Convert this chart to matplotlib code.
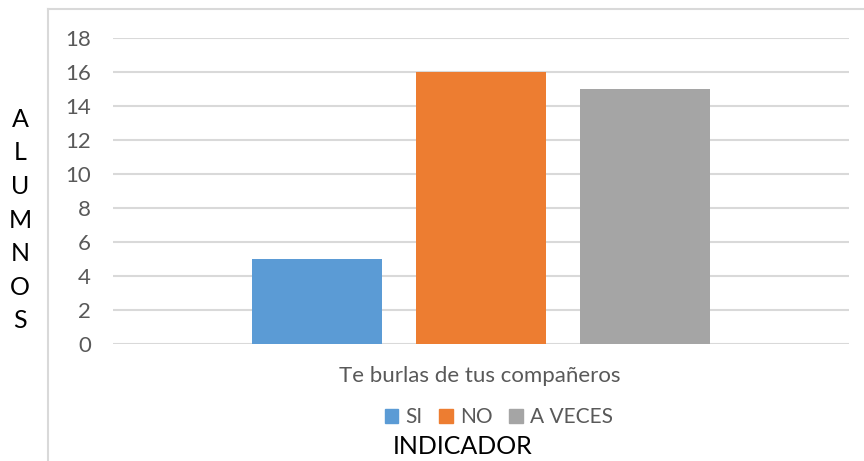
import matplotlib.pyplot as plt
from matplotlib.patches import Patch
import numpy as np

plt.rcParams['font.family'] = ['Lato', 'DejaVu Sans']

# datos
categoria = 'Te burlas de tus compañeros'
series = ['SI', 'NO', 'A VECES']
valores = [5, 16, 15]
colores = ['#5B9BD5', '#ED7D31', '#A5A5A5']

fig = plt.figure(figsize=(8.64, 4.61), dpi=100)
ax = fig.add_axes([113/864, 1-344/461, (849-113)/864, (344-38)/461])

x = np.arange(len(series)) - 1
ax.bar(x, valores, width=0.787, color=colores, zorder=3)

ax.set_xlim(-2.244, 2.244)
ax.set_ylim(0, 18)
ax.set_yticks(range(0, 19, 2))
ax.set_xticks([])
ax.yaxis.grid(True, color='#D9D9D9', linewidth=1.5, zorder=0)
for s in ax.spines.values():
    s.set_visible(False)
ax.tick_params(axis='y', length=0, pad=16, labelsize=16, labelcolor='#595959')

# borde del grafico (parcialmente recortado)
fig.add_artist(plt.Line2D([48/864, 48/864], [0, 1-9/461], color='#D9D9D9', linewidth=1.5))
fig.add_artist(plt.Line2D([48/864, 1], [1-9/461, 1-9/461], color='#D9D9D9', linewidth=1.5))

fig.text(480/864, 1-376/461, categoria, ha='center', va='center', fontsize=16, color='#595959')

handles = [Patch(color=c, label=s) for c, s in zip(colores, series)]
fig.legend(handles=handles, loc='center', bbox_to_anchor=(499/864, 1-417/461), ncol=3,
           frameon=False, fontsize=15, labelcolor='#595959', handlelength=0.65, handleheight=0.65,
           handletextpad=0.35, columnspacing=0.8)

fig.text(463/864, 1-446/461, 'INDICADOR', ha='center', va='center', fontsize=18, color='black')
fig.text(20/864, 1-220/461, '\n'.join('ALUMNOS'), ha='center', va='center', fontsize=18,
         color='black', linespacing=1.56)

fig.savefig('out.png', dpi=100)
